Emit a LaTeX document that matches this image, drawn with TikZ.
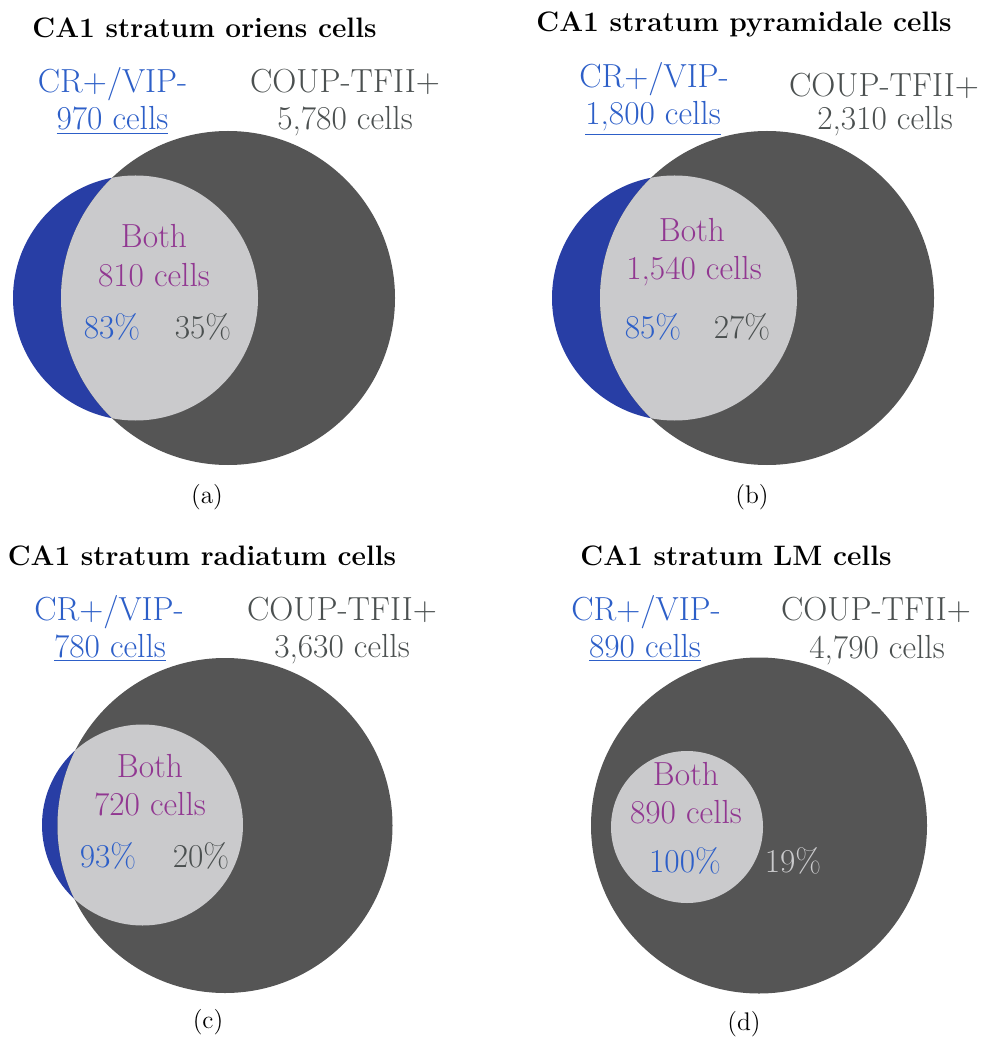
\documentclass[tikz,border=0pt]{standalone}
\usepackage{tikz}
\usepackage{xcolor}
\definecolor{cblue}{RGB}{ 45, 95,200}
\definecolor{fblue}{RGB}{ 40, 62,165}
\definecolor{dgray}{RGB}{ 85, 85, 85}
\definecolor{lgray}{RGB}{202,202,204}
\definecolor{purp} {RGB}{145, 55,145}
\definecolor{ctxt} {RGB}{ 75, 80, 80}
\tikzset{
  % Panel title
  Ttl/.style={font=\fontsize{16}{19}\selectfont\bfseries,anchor=base,
              inner sep=0pt},
  % CR+/VIP- labels
  CR/.style={font=\fontsize{19}{22}\selectfont,color=cblue,anchor=base,
             inner sep=0pt},
  % COUP-TFII+ labels
  CP/.style={font=\fontsize{19}{22}\selectfont,color=ctxt,anchor=base,
             inner sep=0pt},
  % overlap labels
  BT/.style={font=\fontsize{19}{22}\selectfont,color=purp,anchor=base,
             inner sep=0pt},
  % sub-figure letter
  SubL/.style={font=\fontsize{14.5}{17}\selectfont,anchor=base,inner sep=0pt},
  % circle fills
  CRset/.style={fill=fblue},
  CPset/.style={fill=dgray},
  BTset/.style={fill=lgray},
}
\begin{document}
\begin{tikzpicture}[x=0.02cm,y=-0.02cm]
\useasboundingbox (0,0) rectangle (988,1050);
% ── (a) oriens ───────────────────────────
\fill[CRset] (135.5,298) circle[radius=122.5];
\fill[CPset] (228,298) circle[radius=167];
\begin{scope}
  \clip (135.5,298) circle[radius=122.5];
  \fill[BTset] (228,298) circle[radius=167];
\end{scope}
\node[Ttl] at (204.5,38) (ttlA) {CA1 stratum oriens cells};
\node[CR] at (112.5,93) (crA) {CR+/VIP-};
\node[CR] at (112.5,130) (crnA) {\underline{970 cells}};
\node[CP] at (345,93) (cpA) {COUP-TFII+};
\node[CP] at (345,130) (cpnA) {5,780 cells};
\node[BT] at (154,248) (btA) {Both};
\node[BT] at (154,287) (btnA) {810 cells};
\node[CR] at (112,338) (pcrA) {83\%};
\node[CP] at (203,338) (pcpA) {35\%};
\node[SubL] at (207,503) (subA) {(a)};
% ── (b) pyramidale ───────────────────────
\fill[CRset] (674.5,298) circle[radius=122.5];
\fill[CPset] (767,298) circle[radius=167];
\begin{scope}
  \clip (674.5,298) circle[radius=122.5];
  \fill[BTset] (767,298) circle[radius=167];
\end{scope}
\node[Ttl] at (744,32) (ttlB) {CA1 stratum pyramidale cells};
\node[CR] at (654,88) (crB) {CR+/VIP-};
\node[CR] at (653,125) (crnB) {\underline{1,800 cells}};
\node[CP] at (884,97) (cpB) {COUP-TFII+};
\node[CP] at (885,130) (cpnB) {2,310 cells};
\node[BT] at (692,242) (btB) {Both};
\node[BT] at (694,280) (btnB) {1,540 cells};
\node[CR] at (653,338) (pcrB) {85\%};
\node[CP] at (742,338) (pcpB) {27\%};
\node[SubL] at (752,503) (subB) {(b)};
% ── (c) radiatum ─────────────────────────
\fill[CRset] (142.5,825) circle[radius=100.5];
\fill[CPset] (225,825.5) circle[radius=167.5];
\begin{scope}
  \clip (142.5,825) circle[radius=100.5];
  \fill[BTset] (225,825.5) circle[radius=167.5];
\end{scope}
\node[Ttl] at (202,565) (ttlC) {CA1 stratum radiatum cells};
\node[CR] at (109,620) (crC) {CR+/VIP-};
\node[CR] at (110,657) (crnC) {\underline{780 cells}};
\node[CP] at (342,620) (cpC) {COUP-TFII+};
\node[CP] at (342,657) (cpnC) {3,630 cells};
\node[BT] at (150,777) (btC) {Both};
\node[BT] at (150,815) (btnC) {720 cells};
\node[CR] at (108,867) (pcrC) {93\%};
\node[CP] at (201,867) (pcpC) {20\%};
\node[SubL] at (208,1028) (subC) {(c)};
% ── (d) LM ───────────────────────────────
\fill[CPset] (759,825.5) circle[radius=168];
\fill[BTset] (687,827) circle[radius=76];
\node[Ttl] at (736,565) (ttlD) {CA1 stratum LM cells};
\node[CR] at (646,620) (crD) {CR+/VIP-};
\node[CR] at (645,657) (crnD) {\underline{890 cells}};
\node[CP] at (876,620) (cpD) {COUP-TFII+};
\node[CP] at (877,658) (cpnD) {4,790 cells};
\node[BT] at (686,785) (btD) {Both};
\node[BT] at (686,823) (btnD) {890 cells};
\node[CR] at (685,872) (pcrD) {100\%};
\node[CP,color=lgray] at (793,872) (pcpD) {19\%};
\node[SubL] at (744,1030) (subD) {(d)};
\end{tikzpicture}
\end{document}
